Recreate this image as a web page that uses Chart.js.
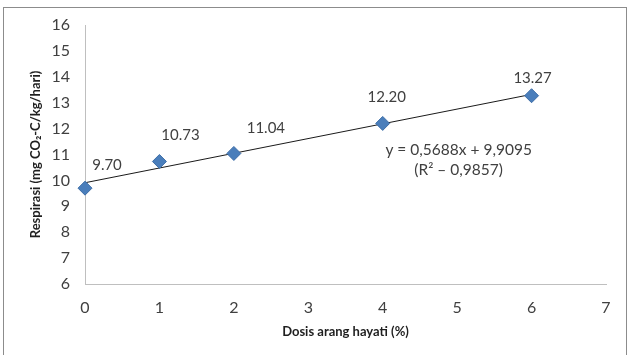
<!DOCTYPE html>
<html>
<head>
<meta charset="utf-8">
<script src="https://cdn.jsdelivr.net/npm/chart.js@4"></script>
<style>
  html, body { margin: 0; padding: 0; background: #fff; }
  #wrap { width: 631px; height: 355px; position: relative; }
</style>
</head>
<body>
<div id="wrap"><canvas id="resp-chart" width="631" height="355"></canvas></div>
<script>
// Respiration vs. biochar dose
const doses = [0, 1, 2, 4, 6];
const respiration = [9.70, 10.73, 11.04, 12.20, 13.27];
const pointLabels = ["9.70", "10.73", "11.04", "12.20", "13.27"];

// linear trendline as reported on the chart
const slope = 0.5688;
const intercept = 9.9095;
const trendX = [0, 6];
const equationLines = ["y = 0,5688x + 9,9095", "(R\u00b2 \u2013 0,9857)"];

// label placement relative to each marker (px)
const labelOffsets = [[22, -23], [21, -26], [32, -25], [4, -26], [1, -18]];

const FONT = "Lato, 'Open Sans', sans-serif";
const TEXT = "#404040";

const frame = {
  id: "frame",
  beforeDraw(chart) {
    const ctx = chart.ctx;
    ctx.save();
    ctx.fillStyle = "#fff";
    ctx.fillRect(0, 0, chart.width, chart.height);
    ctx.strokeStyle = "#8c8c8c";
    ctx.lineWidth = 1;
    ctx.strokeRect(3.5, 7.5, 623, 352);
    ctx.restore();
  },
};

const annotations = {
  id: "annotations",
  afterDatasetsDraw(chart) {
    const ctx = chart.ctx;
    const meta = chart.getDatasetMeta(1);
    ctx.save();
    ctx.fillStyle = TEXT;
    ctx.font = "15px " + FONT;
    ctx.textAlign = "center";
    ctx.textBaseline = "middle";
    meta.data.forEach((pt, i) => {
      ctx.fillText(pointLabels[i], pt.x + labelOffsets[i][0], pt.y + labelOffsets[i][1]);
    });
    const xs = chart.scales.x, ys = chart.scales.y;
    const ex = xs.getPixelForValue(5.02);
    const ey = ys.getPixelForValue(11.17);
    ctx.font = "15.5px " + FONT;
    ctx.fillText(equationLines[0], ex, ey);
    ctx.fillText(equationLines[1], ex, ey + 20);
    ctx.restore();
  },
};

new Chart(document.getElementById("resp-chart"), {
  type: "scatter",
  data: {
    datasets: [
      {
        label: "Linear",
        data: trendX.map((x) => ({ x: x, y: intercept + slope * x })),
        showLine: true,
        borderColor: "#1a1a1a",
        borderWidth: 1,
        pointRadius: 0,
        order: 2,
      },
      {
        label: "Respirasi",
        data: doses.map((x, i) => ({ x: x, y: respiration[i] })),
        pointStyle: "rectRot",
        pointRadius: 7,
        backgroundColor: "#4a7ebb",
        borderColor: "#3f6fa8",
        borderWidth: 1,
        clip: false,
        order: 1,
      },
    ],
  },
  options: {
    responsive: false,
    animation: false,
    layout: { padding: { left: 0, top: 25, right: 25, bottom: 0 } },
    plugins: {
      legend: { display: false },
      tooltip: { enabled: false },
    },
    scales: {
      x: {
        type: "linear",
        min: 0,
        max: 7,
        ticks: { stepSize: 1, color: TEXT, padding: 14, font: { family: FONT, size: 16 } },
        grid: { display: false, drawTicks: false },
        border: { display: true, color: "#bfbfbf", width: 1 },
        title: {
          display: true,
          text: "Dosis arang hayati (%)",
          color: "#1f1f1f",
          font: { family: FONT, size: 13, weight: "bold" },
          padding: { top: 0, bottom: 15 },
        },
        afterFit(scale) { scale.height = 71; },
      },
      y: {
        min: 6,
        max: 16,
        ticks: { stepSize: 1, color: TEXT, padding: 15, font: { family: FONT, size: 16 } },
        grid: { display: false, drawTicks: false },
        border: { display: true, color: "#bfbfbf", width: 1 },
        title: {
          display: true,
          text: "Respirasi (mg CO\u2082-C/kg/hari)",
          color: "#1f1f1f",
          font: { family: FONT, size: 13, weight: "bold" },
          padding: { top: 28, bottom: 0 },
        },
        afterFit(scale) { scale.width = 85; },
      },
    },
  },
  plugins: [frame, annotations],
});
</script>
</body>
</html>
